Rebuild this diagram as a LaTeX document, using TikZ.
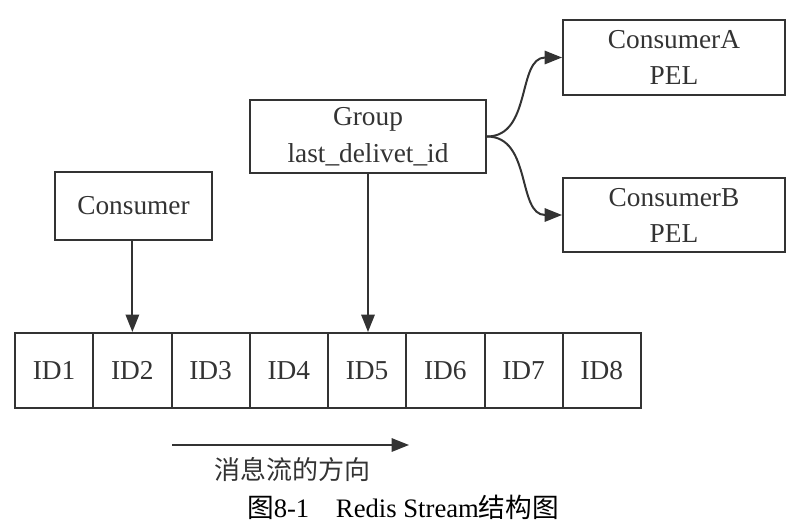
\documentclass[tikz,border=0pt]{standalone}
\usepackage{fontspec}
\setmainfont{Liberation Serif}
\newfontfamily\cjk{Noto Sans CJK SC}
\usetikzlibrary{arrows.meta}
\definecolor{ink}{HTML}{333333}
\begin{document}
\begin{tikzpicture}[x=0.75pt,y=-0.75pt,
  box/.style={draw=ink,line width=1.5pt,inner sep=0pt,align=center,text=ink,
    font=\fontsize{20.5}{25.5}\selectfont},
  cell/.style={box,minimum width=78.25*0.75pt,minimum height=75*0.75pt},
  arr/.style={draw=ink,line width=1.5pt,-{Triangle[length=13pt,width=10pt]}},
  lbl/.style={inner sep=0pt,text=ink,font=\fontsize{20.5}{25}\selectfont}]
\useasboundingbox (0,0) rectangle (810,529);
\node[box,minimum width=157*0.75pt,minimum height=68*0.75pt] (cons) at (133.5,206) {Consumer};
\node[box,minimum width=236*0.75pt,minimum height=73*0.75pt] (grp) at (368,136.5) {Group\\[2.5pt]last\_delivet\_id};
\node[box,minimum width=222*0.75pt,minimum height=75*0.75pt] (ca) at (674,57.5) {ConsumerA\\[1.5pt]PEL};
\node[box,minimum width=222*0.75pt,minimum height=74*0.75pt] (cb) at (674,215) {ConsumerB\\[1.5pt]PEL};
\foreach \i in {1,...,8}{
  \node[cell] (id\i) at ({15+78.25*(\i-0.5)},370.5) {ID\i};
}
\draw[arr] (id2.north |- cons.south) -- (id2.north);
\draw[arr] (grp.south) -- (grp.south |- id5.north);
\draw[arr] (grp.east) .. controls +(45,0) and +(-45,0) .. (ca.west);
\draw[arr] (grp.east) .. controls +(45,0) and +(-45,0) .. (cb.west);
\coordinate (fs) at (172,445);
\coordinate (fe) at (409,445);
\draw[arr] (fs) -- (fe);
\node[lbl,font=\fontsize{19.5}{24}\selectfont\cjk] (flow) at (292,470) {消息流的方向};
\node[lbl,text=black,font=\fontsize{20}{24}\selectfont] (cap) at (403,507) {{\cjk 图}8-1\hspace{1em}Redis Stream{\cjk 结构图}};
\end{tikzpicture}
\end{document}
